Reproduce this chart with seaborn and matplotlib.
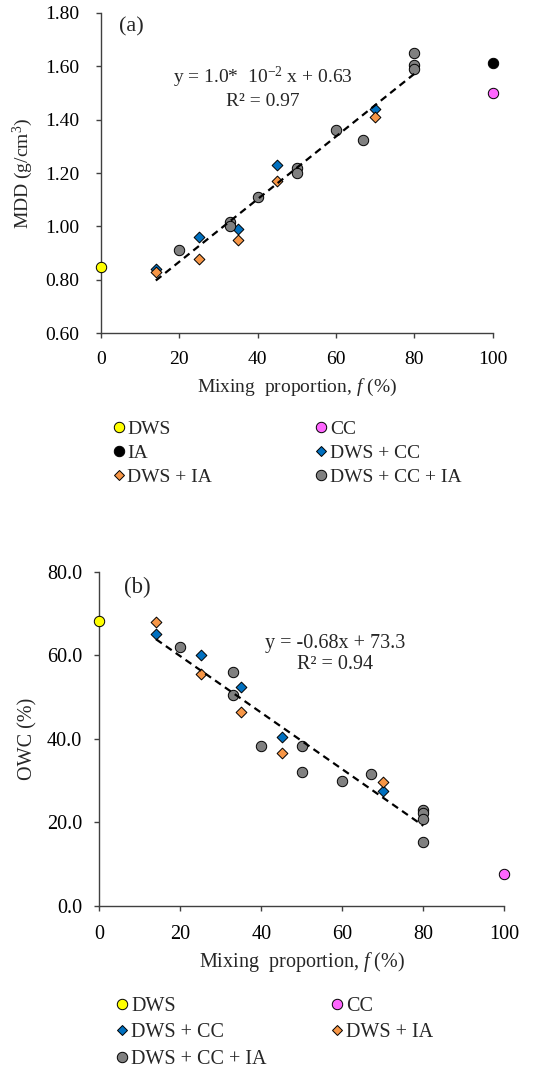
import numpy as np
import pandas as pd
import matplotlib
matplotlib.use("Agg")
import matplotlib.pyplot as plt
import seaborn as sns
from matplotlib.lines import Line2D

sns.set_style("white")
plt.rcParams['font.family'] = ['Liberation Serif', 'DejaVu Serif']
plt.rcParams['mathtext.fontset'] = 'custom'
plt.rcParams['mathtext.it'] = 'Liberation Serif:italic'
plt.rcParams['mathtext.rm'] = 'Liberation Serif'

# ---------------- Data: panel (a) MDD ----------------
a_dws_x = [0];   a_dws_y = [0.85]
a_cc_x = [100];  a_cc_y = [1.50]
a_ia_x = [100];  a_ia_y = [1.61]
a_dwscc_x = [14, 25, 35, 45, 70]
a_dwscc_y = [0.84, 0.96, 0.99, 1.23, 1.44]
a_dwsia_x = [14, 25, 35, 45, 70]
a_dwsia_y = [0.83, 0.88, 0.95, 1.17, 1.41]
a_all_x = [20, 33, 33, 40, 50, 50, 60, 67, 80, 80, 80]
a_all_y = [0.91, 1.015, 1.00, 1.11, 1.22, 1.20, 1.36, 1.325, 1.65, 1.605, 1.59]

# ---------------- Data: panel (b) OWC ----------------
b_dws_x = [0];   b_dws_y = [68.1]
b_cc_x = [100];  b_cc_y = [7.7]
b_dwscc_x = [14, 25, 35, 45, 70]
b_dwscc_y = [65.0, 60.0, 52.3, 40.5, 27.4]
b_dwsia_x = [14, 25, 35, 45, 70]
b_dwsia_y = [67.9, 55.6, 46.5, 36.6, 29.6]
b_all_x = [20, 33, 33, 40, 50, 50, 60, 67, 80, 80, 80, 80]
b_all_y = [62.0, 56.1, 50.5, 38.4, 38.4, 32.1, 29.8, 31.7, 22.9, 22.3, 20.9, 15.3]

colors = {"DWS": "#FFFF00", "CC": "#FF66FF", "IA": "#000000",
          "DWS + CC": "#0070C0", "DWS + IA": "#F79646", "DWS + CC + IA": "#808080"}
markers = {"DWS": "o", "CC": "o", "IA": "o",
           "DWS + CC": "D", "DWS + IA": "D", "DWS + CC + IA": "o"}
sizes = {"o": 56, "D": 30}

fig = plt.figure(figsize=(5.38, 10.68), dpi=100)
ax1 = fig.add_axes([0.1877, 0.6879, 0.728, 0.3002])
ax2 = fig.add_axes([0.1846, 0.1517, 0.7528, 0.3130])

def draw(ax, groups, fit_x, fit_y):
    for name, (xs, ys) in groups.items():
        df = pd.DataFrame({"x": xs, "y": ys})
        m = markers[name]
        sns.scatterplot(data=df, x="x", y="y", ax=ax, marker=m, s=sizes[m],
                        color=colors[name], edgecolor="black", linewidth=0.7,
                        clip_on=False, zorder=3, legend=False)
    fdf = pd.DataFrame({"x": fit_x, "y": fit_y})
    sns.regplot(data=fdf, x="x", y="y", ax=ax, scatter=False, ci=None,
                truncate=True,
                line_kws=dict(color="black", lw=1.6, ls=(0, (3.2, 2.2)), zorder=4))

ga = {"DWS": (a_dws_x, a_dws_y), "CC": (a_cc_x, a_cc_y), "IA": (a_ia_x, a_ia_y),
      "DWS + CC": (a_dwscc_x, a_dwscc_y), "DWS + IA": (a_dwsia_x, a_dwsia_y),
      "DWS + CC + IA": (a_all_x, a_all_y)}
draw(ax1, ga, a_dwscc_x + a_dwsia_x + a_all_x, a_dwscc_y + a_dwsia_y + a_all_y)

gb = {"DWS": (b_dws_x, b_dws_y), "CC": (b_cc_x, b_cc_y),
      "DWS + CC": (b_dwscc_x, b_dwscc_y), "DWS + IA": (b_dwsia_x, b_dwsia_y),
      "DWS + CC + IA": (b_all_x, b_all_y)}
draw(ax2, gb, b_dwscc_x + b_dwsia_x + b_all_x, b_dwscc_y + b_dwsia_y + b_all_y)

fa, fb = 14, 14.5
spine_c = "#404040"
for ax, fs, ypad, xpad, xlp, ylp in ((ax1, fa, 12, 9, 6, 7), (ax2, fb, 8.5, 10, 4, 6.5)):
    ax.set_xlim(0, 100)
    ax.set_xticks([0, 20, 40, 60, 80, 100])
    for s in ("top", "right"):
        ax.spines[s].set_visible(False)
    for s in ("left", "bottom"):
        ax.spines[s].set_color(spine_c)
        ax.spines[s].set_linewidth(1.0)
    ax.tick_params(axis="both", direction="out", length=3.8, width=1.0,
                   color=spine_c, labelsize=fs, labelcolor="black",
                   bottom=True, left=True)
    ax.tick_params(axis="y", pad=ypad)
    ax.tick_params(axis="x", pad=xpad)
    ax.set_xlabel(r"Mixing  proportion, $\it{f}$ (%)", fontsize=fs, labelpad=xlp)
    ax.yaxis.labelpad = ylp
    ax.set_facecolor("white")

ax1.set_ylim(0.6, 1.8)
ax1.set_yticks(np.arange(0.6, 1.81, 0.2))
ax1.set_yticklabels([f"{v:.2f}" for v in np.arange(0.6, 1.81, 0.2)])
ax1.set_ylabel(r"MDD (g/cm$^{3}$)", fontsize=fa)
ax1.text(0.045, 0.985, "(a)", transform=ax1.transAxes, fontsize=fa + 2, va="top")
ax1.text(0.414, 0.767, r"y = 1.0*  10$^{-2}$ x + 0.63" + "\nR² = 0.97",
         transform=ax1.transAxes, fontsize=fa, ha="center", va="center",
         linespacing=1.2)

ax2.set_ylim(0, 80)
ax2.set_yticks(np.arange(0, 81, 20))
ax2.set_yticklabels([f"{v:.1f}" for v in np.arange(0, 81, 20)])
ax2.set_ylabel("OWC (%)", fontsize=fb)
ax2.text(0.06, 0.985, "(b)", transform=ax2.transAxes, fontsize=fb + 2, va="top")
ax2.text(0.582, 0.754, "y = -0.68x + 73.3\nR² = 0.94",
         transform=ax2.transAxes, fontsize=fb, ha="center", va="center",
         linespacing=1.2)

def handle(name):
    m = markers[name]
    return Line2D([], [], ls="none", marker=m, markersize=7.5 if m == "o" else 5.2,
                  markerfacecolor=colors[name], markeredgecolor="black",
                  markeredgewidth=0.7, label=name)

order_a = ["DWS", "IA", "DWS + IA", "CC", "DWS + CC", "DWS + CC + IA"]
fig.legend(handles=[handle(n) for n in order_a], ncol=2, frameon=False,
           loc="upper left", bbox_to_anchor=(0.195, 0.6136), fontsize=fa,
           handlelength=0.6, handletextpad=0.15, columnspacing=5.3,
           labelspacing=0.33, borderaxespad=0)

order_b = ["DWS", "DWS + CC", "DWS + CC + IA", "CC", "DWS + IA"]
fig.legend(handles=[handle(n) for n in order_b], ncol=2, frameon=False,
           loc="upper left", bbox_to_anchor=(0.2013, 0.074), fontsize=fb,
           handlelength=0.6, handletextpad=0.15, columnspacing=3.16,
           labelspacing=0.36, borderaxespad=0)

fig.savefig("out.png", dpi=100, facecolor="white")
